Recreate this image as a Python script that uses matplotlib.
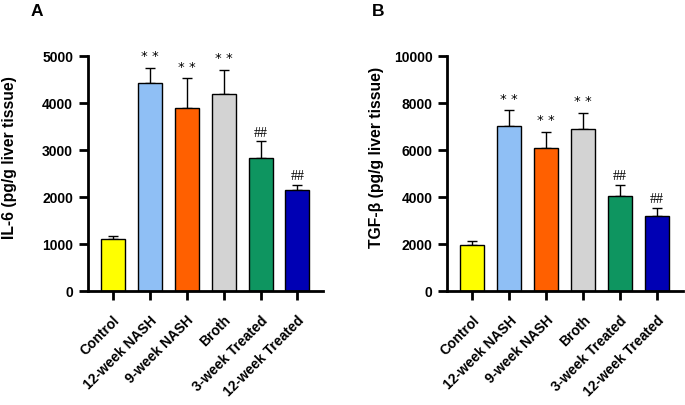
import matplotlib
matplotlib.use('Agg')
import matplotlib.pyplot as plt
import numpy as np

plt.rcParams['font.family'] = ['Liberation Sans', 'DejaVu Sans']

groups = ['Control', '12-week NASH', '9-week NASH', 'Broth', '3-week Treated', '12-week Treated']
colors = ['#FFFF00', '#8FBFF5', '#FF6000', '#D3D3D3', '#0E9560', '#0000B4']

il6_mean = [1100, 4420, 3900, 4190, 2830, 2155]
il6_err = [70, 325, 620, 505, 350, 105]
tgf_mean = [1970, 7020, 6080, 6900, 4030, 3180]
tgf_err = [160, 660, 665, 680, 485, 340]
marks = ['', '**', '**', '**', '##', '##']


def drawPanel(ax, means, errs, ymax, step, ylabel, labelx, letter, letterx):
    x = np.arange(len(groups))
    ax.bar(x, means, width=0.65, color=colors, edgecolor='black', linewidth=1, zorder=2)
    ax.errorbar(x, means, yerr=[np.zeros(len(errs)), errs], fmt='none', ecolor='black',
                elinewidth=1, capsize=3.5, capthick=1, zorder=1)
    for i in range(len(x)):
        if marks[i] == '**':
            ax.text(x[i], means[i] + errs[i] + ymax * 0.025, '* *', ha='center', va='bottom',
                    fontsize=9.5, family='DejaVu Sans')
        elif marks[i] == '##':
            ax.text(x[i], means[i] + errs[i] + ymax * 0.012, '##', ha='center', va='bottom',
                    fontsize=10, family='Liberation Serif')
    ax.set_xlim(-0.68, 5.7)
    ax.set_ylim(0, ymax)
    ax.set_yticks(np.arange(0, ymax + 1, step))
    ax.set_xticks(x)
    ax.set_xticklabels(groups, rotation=45, ha='right', rotation_mode='anchor', fontsize=10, fontweight='bold')
    for t in ax.get_yticklabels():
        t.set_fontweight('bold')
        t.set_fontsize(10)
    ax.spines['top'].set_visible(False)
    ax.spines['right'].set_visible(False)
    ax.spines['left'].set_linewidth(2)
    ax.spines['bottom'].set_linewidth(2)
    ax.tick_params(axis='both', direction='out', length=6.5, width=2)
    ax.tick_params(axis='y', pad=4)
    ax.tick_params(axis='x', pad=9)
    ax.set_ylabel(ylabel, fontsize=11.3, fontweight='bold')
    ax.yaxis.set_label_coords(labelx, 0.57)
    fig.text(letterx, 0.972, letter, fontsize=12.5, fontweight='bold', va='center')


fig = plt.figure(figsize=(6.85, 4.06), dpi=100)
axA = fig.add_axes([0.128, 0.281, 0.344, 0.579])
axB = fig.add_axes([0.653, 0.281, 0.344, 0.579])

drawPanel(axA, il6_mean, il6_err, 5000, 1000, 'IL-6 (pg/g liver tissue)', -0.30, 'A', 0.044)
drawPanel(axB, tgf_mean, tgf_err, 10000, 2000, 'TGF-β (pg/g liver tissue)', -0.27, 'B', 0.543)

fig.savefig('out.png', dpi=100)
